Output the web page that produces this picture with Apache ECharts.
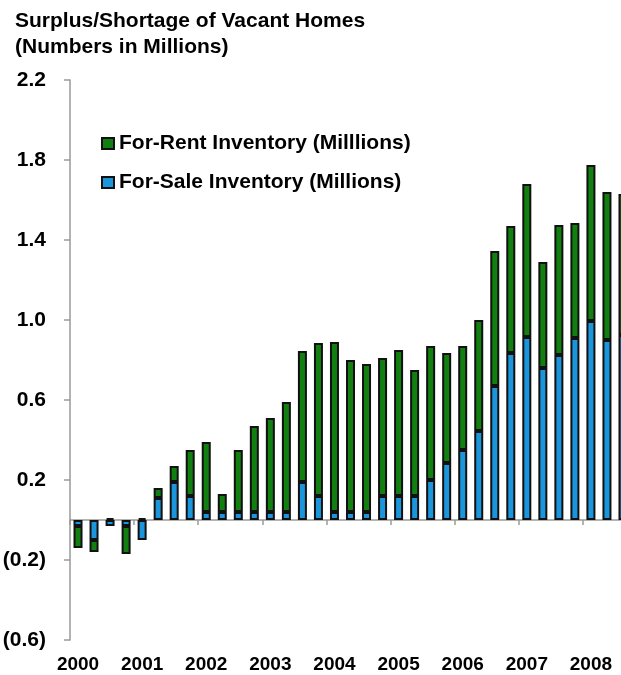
<!DOCTYPE html>
<html>
<head>
<meta charset="utf-8">
<script src="https://cdn.jsdelivr.net/npm/echarts@6/dist/echarts.min.js"></script>
<style>
  html, body { margin: 0; padding: 0; background: #fff; }
  #chart { width: 621px; height: 675px; }
</style>
</head>
<body>
<div id="chart"></div>
<script>
// quarters 2000 Q1 .. 2008 Q3 (right edge of the picture is cut)
const years = ['2000', '2001', '2002', '2003', '2004', '2005', '2006', '2007', '2008'];
const quarters = ['Q1', 'Q2', 'Q3', 'Q4'];
const categories = [];
years.forEach(function (y) {
  quarters.forEach(function (q) {
    if (categories.length < 35) categories.push(y + ' ' + q);
  });
});

// For-Sale inventory (millions) - bottom of the stack
const forSale = [-0.03, -0.10, -0.03, -0.03, -0.10, 0.11, 0.19, 0.12,
  0.04, 0.04, 0.04, 0.04, 0.04, 0.04, 0.19, 0.12,
  0.04, 0.04, 0.04, 0.12, 0.12, 0.12, 0.20, 0.285,
  0.35, 0.445, 0.67, 0.835, 0.915, 0.76, 0.825, 0.91,
  0.995, 0.90, 0.925];

// For-Rent inventory (millions) - top of the stack
const forRent = [-0.11, -0.06, 0.01, -0.14, 0.01, 0.05, 0.08, 0.23,
  0.35, 0.09, 0.31, 0.43, 0.47, 0.55, 0.655, 0.765,
  0.85, 0.76, 0.74, 0.69, 0.73, 0.63, 0.67, 0.55,
  0.52, 0.555, 0.675, 0.635, 0.765, 0.53, 0.65, 0.575,
  0.78, 0.74, 0.705];

const yTicks = [-0.6, -0.2, 0.2, 0.6, 1.0, 1.4, 1.8, 2.2];

const font = 'Arial, "Liberation Sans", sans-serif';
const green = '#118011';
const blue = '#1b95db';

const chart = echarts.init(document.getElementById('chart'));

function yearLabel(v) {
  return v.slice(-2) === 'Q1' ? v.slice(0, 4) : '';
}

const option = {
  animation: false,
  textStyle: { fontFamily: font },
  title: {
    text: 'Surplus/Shortage of Vacant Homes\n(Numbers in Millions)',
    left: 10,
    top: 3,
    textStyle: {
      fontFamily: font,
      fontSize: 21,
      fontWeight: 'bold',
      color: '#000',
      lineHeight: 26
    }
  },
  legend: {
    orient: 'vertical',
    left: 96,
    top: 128,
    icon: 'rect',
    itemWidth: 12,
    itemHeight: 11,
    itemGap: 18,
    data: ['For-Rent Inventory (Milllions)', 'For-Sale Inventory (Millions)'],
    textStyle: {
      fontFamily: font,
      fontSize: 21,
      fontWeight: 'bold',
      color: '#000',
      lineHeight: 21
    }
  },
  grid: {
    left: 70,
    right: -10,
    top: 80,
    bottom: 35,
    containLabel: false,
    outerBoundsMode: 'none'
  },
  xAxis: [
    {
      // zero line with the quarter ticks
      type: 'category',
      data: categories,
      axisLine: { onZero: true, lineStyle: { color: '#9a9a9a', width: 1.5 } },
      axisTick: { show: true, length: 5, lineStyle: { color: '#9a9a9a', width: 1.5 } },
      axisLabel: { show: false }
    },
    {
      // year labels under the plot
      type: 'category',
      data: categories,
      position: 'bottom',
      axisLine: { show: false, onZero: false },
      axisTick: { show: false },
      axisLabel: {
        interval: 0,
        margin: 15,
        fontFamily: font,
        fontSize: 19,
        fontWeight: 'bold',
        color: '#000',
        formatter: yearLabel
      }
    }
  ],
  yAxis: {
    type: 'value',
    min: -0.6,
    max: 2.2,
    interval: 0.4,
    splitLine: { show: false },
    axisLine: { show: true, lineStyle: { color: '#9a9a9a', width: 1.5 } },
    axisTick: { show: true, length: 6, lineStyle: { color: '#9a9a9a', width: 1.5 } },
    axisLabel: {
      margin: 24,
      fontFamily: font,
      fontSize: 21,
      fontWeight: 'bold',
      color: '#000',
      formatter: function (v) {
        const r = Math.round(v * 10) / 10;
        if (yTicks.indexOf(r) < 0) return '';
        return r < 0 ? '(' + Math.abs(r).toFixed(1) + ')' : r.toFixed(1);
      }
    }
  },
  series: [
    {
      name: 'For-Sale Inventory (Millions)',
      type: 'bar',
      stack: 'inv',
      barWidth: 9,
      data: forSale,
      itemStyle: { color: blue, borderColor: '#111', borderWidth: 2 }
    },
    {
      name: 'For-Rent Inventory (Milllions)',
      type: 'bar',
      stack: 'inv',
      barWidth: 9,
      data: forRent,
      itemStyle: { color: green, borderColor: '#111', borderWidth: 2 }
    }
  ]
};

chart.setOption(option);
</script>
</body>
</html>
